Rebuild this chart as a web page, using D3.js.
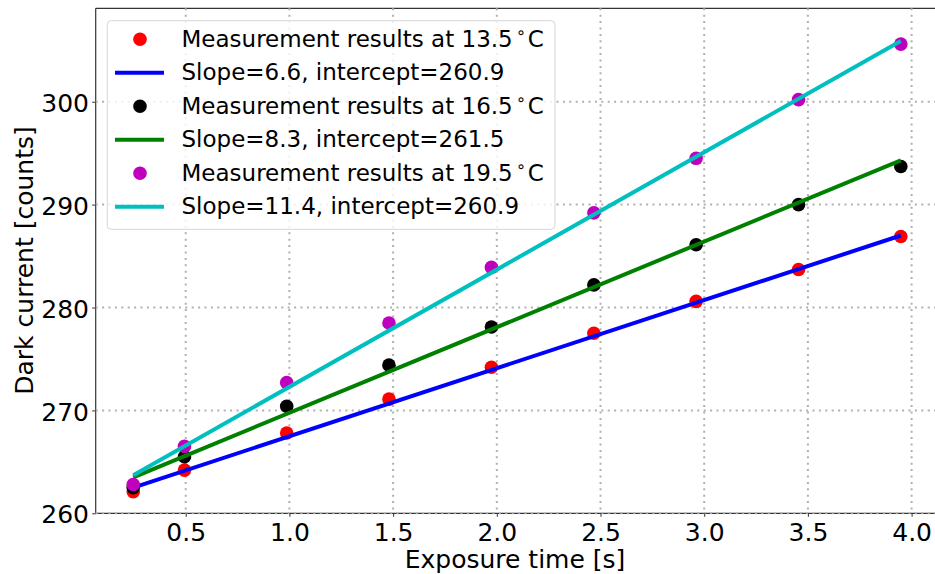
<!DOCTYPE html>
<html>
<head>
<meta charset="utf-8">
<script src="https://cdn.jsdelivr.net/npm/d3@7"></script>
<style>
  body { margin: 0; background: #fff; }
  svg text { font-family: "DejaVu Sans", sans-serif; fill: #000; }
</style>
</head>
<body>
<svg id="chart" width="935" height="574"></svg>
<script>
// exposure times and measured dark current
const exposure = [0.247, 0.494, 0.987, 1.48, 1.974, 2.468, 2.961, 3.455, 3.948];
const dark135 = [262.1, 264.2, 267.8, 271.1, 274.2, 277.5, 280.6, 283.7, 286.9];
const dark165 = [262.5, 265.5, 270.4, 274.4, 278.1, 282.2, 286.1, 290.0, 293.7];
const dark195 = [262.8, 266.5, 272.7, 278.5, 283.9, 289.2, 294.5, 300.2, 305.6];

// fitted lines, ends only
const fitX = [0.247, 3.948];
const fit135 = [262.5, 287.0];
const fit165 = [263.5, 294.3];
const fit195 = [263.7, 305.9];

const temps = ["13.5", "16.5", "19.5"];
const fitLabels = ["Slope=6.6, intercept=260.9", "Slope=8.3, intercept=261.5", "Slope=11.4, intercept=260.9"];

const xTicks = [0.5, 1.0, 1.5, 2.0, 2.5, 3.0, 3.5, 4.0];
const yTicks = [260, 270, 280, 290, 300];

function main(){
    var svg = d3.select("#chart");

    var left = 95.7, right = 939.6, top = 8.3, bottom = 513.3;

    var x = d3.scaleLinear().domain([0.066, 4.135]).range([left, right]);
    var y = d3.scaleLinear().domain([260, 309.08]).range([bottom, top]);

    // spines (right one falls outside the picture)
    svg.append("line").attr("x1", left).attr("x2", right).attr("y1", top).attr("y2", top)
        .attr("stroke", "#333").attr("stroke-width", 1.2);
    svg.append("line").attr("x1", left).attr("x2", left).attr("y1", top).attr("y2", bottom)
        .attr("stroke", "#333").attr("stroke-width", 1.2);
    svg.append("line").attr("x1", left).attr("x2", right).attr("y1", bottom).attr("y2", bottom)
        .attr("stroke", "#333").attr("stroke-width", 1.2);

    // grid
    var grid = svg.append("g");
    grid.selectAll(".vg").data(xTicks).enter().append("line")
        .attr("x1", d => x(d)).attr("x2", d => x(d))
        .attr("y1", top).attr("y2", bottom);
    grid.selectAll(".hg").data(yTicks).enter().append("line")
        .attr("x1", left).attr("x2", right)
        .attr("y1", d => y(d)).attr("y2", d => y(d));
    grid.selectAll("line")
        .attr("stroke", "#b0b0b0").attr("stroke-width", 2)
        .attr("stroke-dasharray", "2,4.4");

    // axes
    var xAxis = svg.append("g").attr("transform", "translate(0," + bottom + ")")
        .call(d3.axisBottom(x).tickValues(xTicks).tickSize(3.5)
            .tickFormat(d3.format(".1f")));
    var yAxis = svg.append("g").attr("transform", "translate(" + left + ",0)")
        .call(d3.axisLeft(y).tickValues(yTicks).tickSize(3.5));
    [xAxis, yAxis].forEach(function(a){
        a.select(".domain").remove();
        a.selectAll(".tick line").attr("stroke", "#333").attr("stroke-width", 1);
        a.selectAll(".tick text").attr("font-size", "25px").attr("font-family", "DejaVu Sans")
            .attr("fill", "#000");
    });
    xAxis.selectAll(".tick text").attr("dy", null).attr("y", 28.2);
    yAxis.selectAll(".tick text").attr("dy", null).attr("y", 9.6).attr("x", -6.7);

    // axis titles
    svg.append("text").attr("x", 515).attr("y", 568.3)
        .attr("text-anchor", "middle").attr("font-size", "25px")
        .text("Exposure time [s]");
    svg.append("text").attr("transform", "translate(33.3,260.5) rotate(-90)")
        .attr("text-anchor", "middle").attr("font-size", "25px")
        .text("Dark current [counts]");

    // series in plot order: points then fit line
    var series = [
        {pts: dark135, fit: fit135, pc: "#ff0000", lc: "#0000ff"},
        {pts: dark165, fit: fit165, pc: "#000000", lc: "#008000"},
        {pts: dark195, fit: fit195, pc: "#bf00bf", lc: "#00bfbf"}
    ];
    var line = d3.line().x(d => x(d[0])).y(d => y(d[1]));

    series.forEach(function(s){
        svg.append("g").selectAll("circle")
            .data(exposure.map((e, i) => [e, s.pts[i]]))
            .enter().append("circle")
            .attr("cx", d => x(d[0])).attr("cy", d => y(d[1]))
            .attr("r", 6.8).attr("fill", s.pc);
        svg.append("path")
            .datum(fitX.map((e, i) => [e, s.fit[i]]))
            .attr("d", line).attr("fill", "none")
            .attr("stroke", s.lc).attr("stroke-width", 4);
    });

    // legend
    var lg = svg.append("g");
    lg.append("rect").attr("x", 107.3).attr("y", 20.7).attr("width", 447.7).attr("height", 208.6)
        .attr("rx", 4).attr("fill", "#fff").attr("fill-opacity", 0.8)
        .attr("stroke", "#d6d6d6").attr("stroke-width", 1);

    var rowY0 = 39.3, rowStep = 33.48;
    series.forEach(function(s, i){
        var yp = rowY0 + rowStep * (2 * i);
        var yl = rowY0 + rowStep * (2 * i + 1);
        lg.append("circle").attr("cx", 140).attr("cy", yp).attr("r", 6.8).attr("fill", s.pc);
        var t = lg.append("text").attr("x", 181.5).attr("y", yp + 7.4).attr("font-size", "23px");
        t.append("tspan").text("Measurement results at " + temps[i]);
        t.append("tspan").attr("dx", 3).attr("dy", -8.4).attr("font-size", "16px").text("\u2218");
        t.append("tspan").attr("dx", 2).attr("dy", 8.4).text("C");

        lg.append("line").attr("x1", 115).attr("x2", 164).attr("y1", yl).attr("y2", yl)
            .attr("stroke", s.lc).attr("stroke-width", 4);
        lg.append("text").attr("x", 181.5).attr("y", yl + 7.4).attr("font-size", "23px")
            .text(fitLabels[i]);
    });
}
main();
</script>
</body>
</html>
